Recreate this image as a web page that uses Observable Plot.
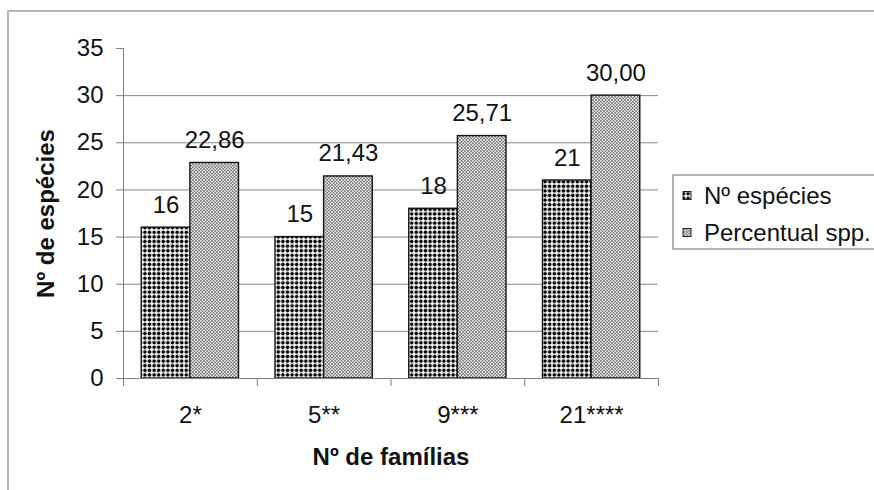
<!DOCTYPE html>
<html>
<head>
<meta charset="utf-8">
<script src="https://cdn.jsdelivr.net/npm/d3@7"></script>
<script src="https://cdn.jsdelivr.net/npm/@observablehq/plot@0.6"></script>
<style>
  html, body { margin: 0; padding: 0; width: 874px; height: 490px; overflow: hidden; background: #fff; }
  #wrap { position: relative; width: 874px; height: 490px; overflow: hidden; }
  #frame { position: absolute; left: 7px; top: 10px; width: 900px; height: 520px;
           border-left: 2px solid #b5b5b5; border-top: 2px solid #b5b5b5; }
  #chart { position: absolute; left: 0; top: 0; }
  #chart svg text { fill: #111; }
  #legend { position: absolute; left: 672px; top: 174px; overflow: visible; }
  #defs { position: absolute; width: 0; height: 0; }
</style>
</head>
<body>
<svg id="defs" aria-hidden="true">
  <defs>
    <!-- dotted grid fill for species counts -->
    <pattern id="patSpecies" patternUnits="userSpaceOnUse" width="4.6" height="4.6">
      <rect width="4.6" height="4.6" fill="#fff"></rect>
      <circle cx="2.3" cy="2.3" r="1.8" fill="#000"></circle>
    </pattern>
    <!-- fine grey checker fill for the percentage -->
    <pattern id="patPercent" patternUnits="userSpaceOnUse" width="3.2" height="3.2">
      <rect width="3.2" height="3.2" fill="#e4e4e4"></rect>
      <rect width="1.6" height="1.6" fill="#7c7c7c"></rect>
      <rect x="1.6" y="1.6" width="1.6" height="1.6" fill="#7c7c7c"></rect>
    </pattern>
  </defs>
</svg>
<div id="wrap">
  <div id="frame"></div>
  <div id="chart"></div>
  <svg id="legend" width="240" height="80"></svg>
</div>
<script>
// Number of families per group (x categories)
const families = ["2*", "5**", "9***", "21****"];
// Series names
const seriesNames = ["Nº espécies", "Percentual spp."];
// Number of species per group
const species = [16, 15, 18, 21];
// Percentage of species per group
const percent = [22.86, 21.43, 25.71, 30.00];
// y axis ticks
const yTicks = [0, 5, 10, 15, 20, 25, 30, 35];
const gridTicks = [5, 10, 15, 20, 25, 30];

const patterns = ["url(#patSpecies)", "url(#patPercent)"];
const fmtInt = d3.format("d");
const fmtPct = (v) => v.toFixed(2).replace(".", ",");
const fontFamily = "'Liberation Sans', Arial, sans-serif";

// Clustered layout: two bars per category, with a gap of 75% of a bar width
const gapWidth = 0.75;
const barW = 1 / (seriesNames.length + gapWidth);

const rows = [];
families.forEach((fam, i) => {
  [species[i], percent[i]].forEach((value, j) => {
    const x1 = i + (gapWidth / 2) * barW + j * barW;
    rows.push({
      family: fam,
      series: seriesNames[j],
      value,
      x1,
      x2: x1 + barW,
      label: j === 0 ? fmtInt(value) : fmtPct(value)
    });
  });
});

const chart = Plot.plot({
  width: 874,
  height: 490,
  marginLeft: 123,
  marginRight: 216,
  marginTop: 48,
  marginBottom: 112,
  style: {
    fontFamily,
    fontSize: "24px",
    color: "#7f7f7f",
    background: "transparent",
    overflow: "visible"
  },
  x: {
    domain: [0, families.length],
    ticks: d3.range(families.length + 1),
    tickSize: 8,
    tickFormat: () => "",
    label: null
  },
  y: {
    domain: [0, 35],
    ticks: yTicks,
    tickSize: 7,
    tickPadding: 13,
    tickFormat: fmtInt,
    label: null,
    line: true
  },
  color: { domain: seriesNames, range: patterns },
  marks: [
    Plot.ruleY(gridTicks, { stroke: "#888", strokeWidth: 1 }),
    Plot.rectY(rows, {
      x1: "x1", x2: "x2", y1: 0, y2: "value",
      fill: "series",
      stroke: "#151515",
      strokeWidth: 1.4
    }),
    Plot.ruleY([0], { stroke: "#7f7f7f", strokeWidth: 1.2 }),
    Plot.text(rows, {
      x: (d) => (d.x1 + d.x2) / 2,
      y: "value",
      text: "label",
      lineAnchor: "bottom",
      dy: -15
    }),
    Plot.text(families, {
      x: (d, i) => i + 0.5,
      frameAnchor: "bottom",
      lineAnchor: "middle",
      dy: 37
    }),
    Plot.text(["Nº de famílias"], {
      frameAnchor: "bottom",
      textAnchor: "middle",
      lineAnchor: "middle",
      dy: 79,
      fontWeight: "bold"
    }),
    Plot.text(["Nº de espécies"], {
      frameAnchor: "left",
      textAnchor: "middle",
      lineAnchor: "middle",
      rotate: -90,
      dx: -77,
      fontWeight: "bold"
    })
  ]
});
document.getElementById("chart").appendChild(chart);

// Legend box on the right
const legend = d3.select("#legend");
legend.append("rect")
  .attr("x", 1).attr("y", 1)
  .attr("width", 260).attr("height", 74)
  .attr("fill", "#fff")
  .attr("stroke", "#8a8a8a")
  .attr("stroke-width", 1.3);
const items = legend.selectAll("g.item")
  .data(seriesNames)
  .join("g")
  .attr("class", "item")
  .attr("transform", (d, i) => `translate(0, ${22 + i * 37})`);
items.append("rect")
  .attr("x", 11).attr("y", -4.5)
  .attr("width", 8).attr("height", 8)
  .attr("fill", (d, i) => patterns[i])
  .attr("stroke", "#222")
  .attr("stroke-width", 1);
items.append("text")
  .attr("x", 32).attr("y", 8)
  .attr("font-family", fontFamily)
  .attr("font-size", 24)
  .attr("fill", "#111")
  .text((d) => d);
</script>
</body>
</html>
